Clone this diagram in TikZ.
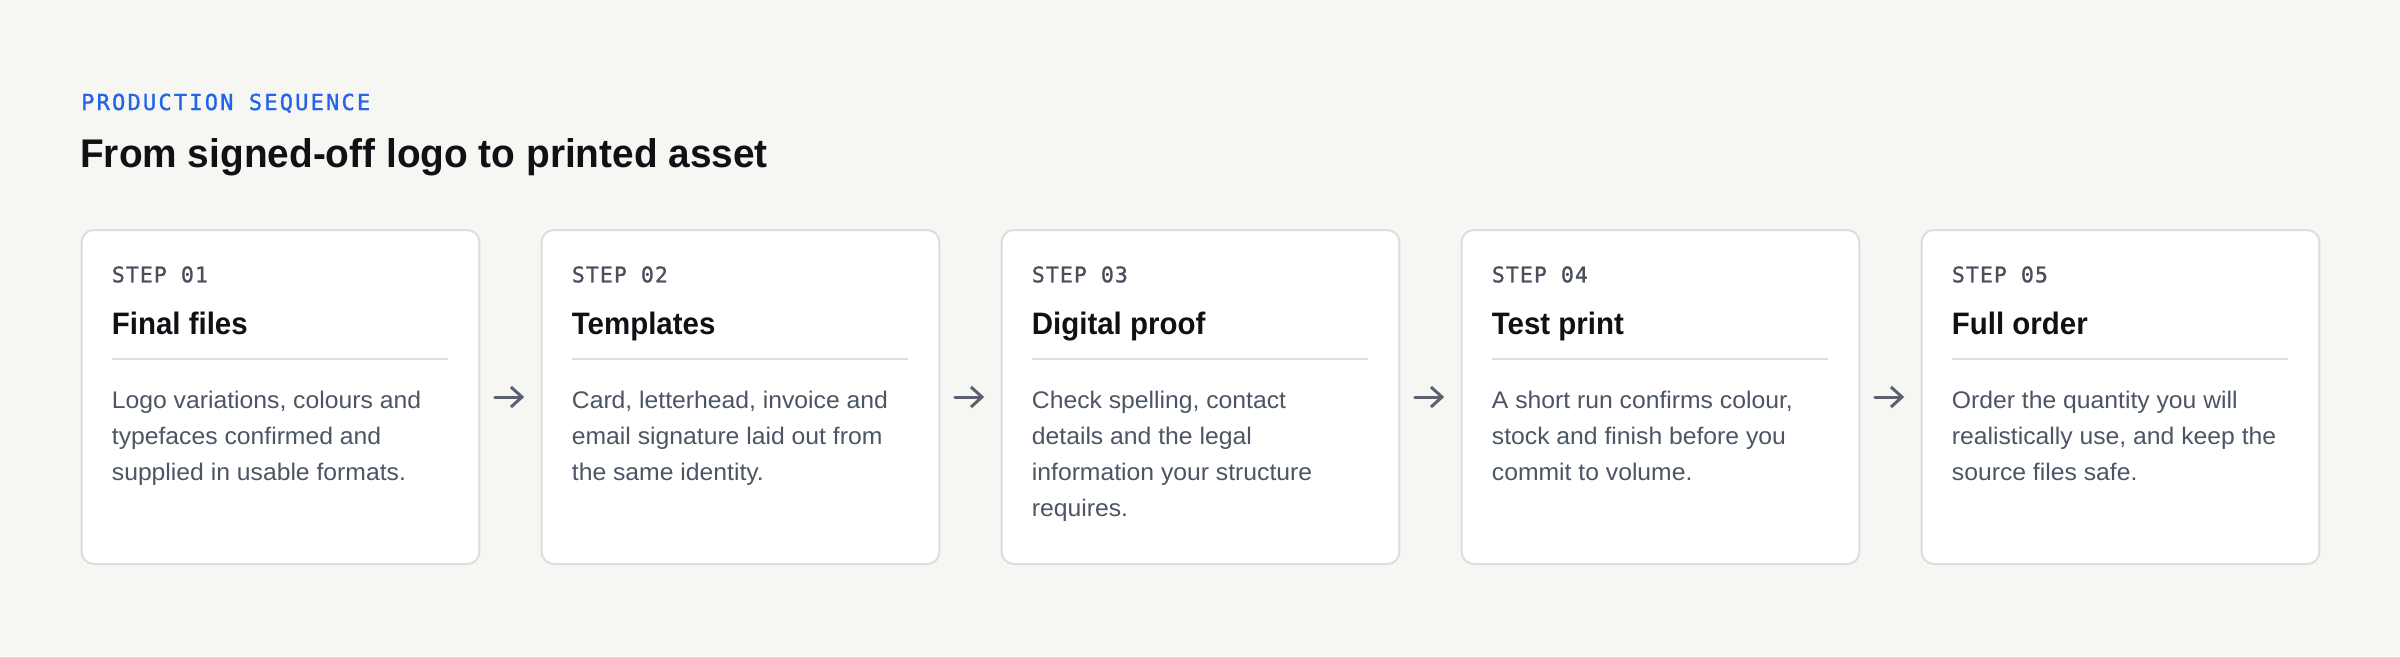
\documentclass[tikz,border=0pt]{standalone}
\usepackage{fontspec}
\setmainfont{Liberation Sans}
\newfontfamily\headfont[FakeStretch=0.97]{Liberation Sans}
\newfontfamily\titlefont[FakeStretch=0.95]{Liberation Sans}
\newfontfamily\bodyfont[FakeStretch=1.03]{Liberation Sans}
\newfontfamily\eyebrowfont[LetterSpace=10,FakeBold=1.2]{DejaVu Sans Mono}
\newfontfamily\stepfont[LetterSpace=5,FakeBold=1.2]{DejaVu Sans Mono}
\usetikzlibrary{arrows.meta}
\definecolor{bg}{HTML}{F6F6F3}
\definecolor{accent}{HTML}{2563EB}
\definecolor{ink}{HTML}{0F1115}
\definecolor{muted}{HTML}{4B5563}
\definecolor{steplbl}{HTML}{4A4F5C}
\definecolor{cardline}{HTML}{DCDDE2}
\definecolor{rulec}{HTML}{DCDEE3}
\definecolor{arrowc}{HTML}{5B6170}
\tikzset{
  card/.style={draw=cardline, line width=2pt, fill=white, rounded corners=12pt,
    minimum width=397.6pt, minimum height=334pt, anchor=north west, inner sep=0pt},
  eyebrow/.style={anchor=base west, inner sep=0pt, text=accent,
    font=\eyebrowfont\fontsize{22}{26}\selectfont},
  heading/.style={anchor=base west, inner sep=0pt, text=ink,
    font=\headfont\bfseries\fontsize{40}{48}\selectfont},
  steplabel/.style={anchor=base west, inner sep=0pt, text=steplbl,
    font=\stepfont\fontsize{21.5}{26}\selectfont},
  cardtitle/.style={anchor=base west, inner sep=0pt, text=ink,
    font=\titlefont\bfseries\fontsize{31}{36}\selectfont},
  bodytext/.style={anchor=base west, inner sep=0pt, text=muted,
    font=\bodyfont\fontsize{24}{36.2}\selectfont},
  divider/.style={draw=rulec, line width=2pt},
  flow/.style={draw=arrowc, line width=3pt, line cap=round, line join=round,
    -{Straight Barb[length=11pt,width=20pt]}, shorten <=14.5pt, shorten >=16.5pt}
}
\begin{document}
\begin{tikzpicture}[x=1pt,y=-1pt]
\fill[bg] (0,0) rectangle (2400,656);
\useasboundingbox (0,0) rectangle (2400,656);

\node[eyebrow] (eyebrowtext) at (81,110) {PRODUCTION SEQUENCE};
\node[heading] (headingtext) at (80,167) {From signed-off logo to printed asset};

\foreach \i/\ttl/\txt [count=\n from 0] in {
  01/Final files/{Logo variations, colours and\\typefaces confirmed and\\supplied in usable formats.},
  02/Templates/{Card, letterhead, invoice and\\email signature laid out from\\the same identity.},
  03/Digital proof/{Check spelling, contact\\details and the legal\\information your structure\\requires.},
  04/Test print/{A short run confirms colour,\\stock and finish before you\\commit to volume.},
  05/Full order/{Order the quantity you will\\realistically use, and keep the\\source files safe.}}
{
  \pgfmathsetmacro\xo{80.7+460*\n}
  \node[card] (card\i) at (\xo,229) {};
  \node[steplabel] (step\i) at (\xo+31,282.3) {STEP \i};
  \node[cardtitle] (title\i) at (\xo+31,334) {\ttl};
  \draw[divider] (\xo+31,359) -- (\xo+367,359);
  \node[bodytext] (body\i) at (\xo+31,408.3) {\parbox[t]{360pt}{\raggedright\txt}};
}

\foreach \a/\b in {01/02,02/03,03/04,04/05}
  \draw[flow] (card\a.east) -- (card\b.west);
\end{tikzpicture}
\end{document}
